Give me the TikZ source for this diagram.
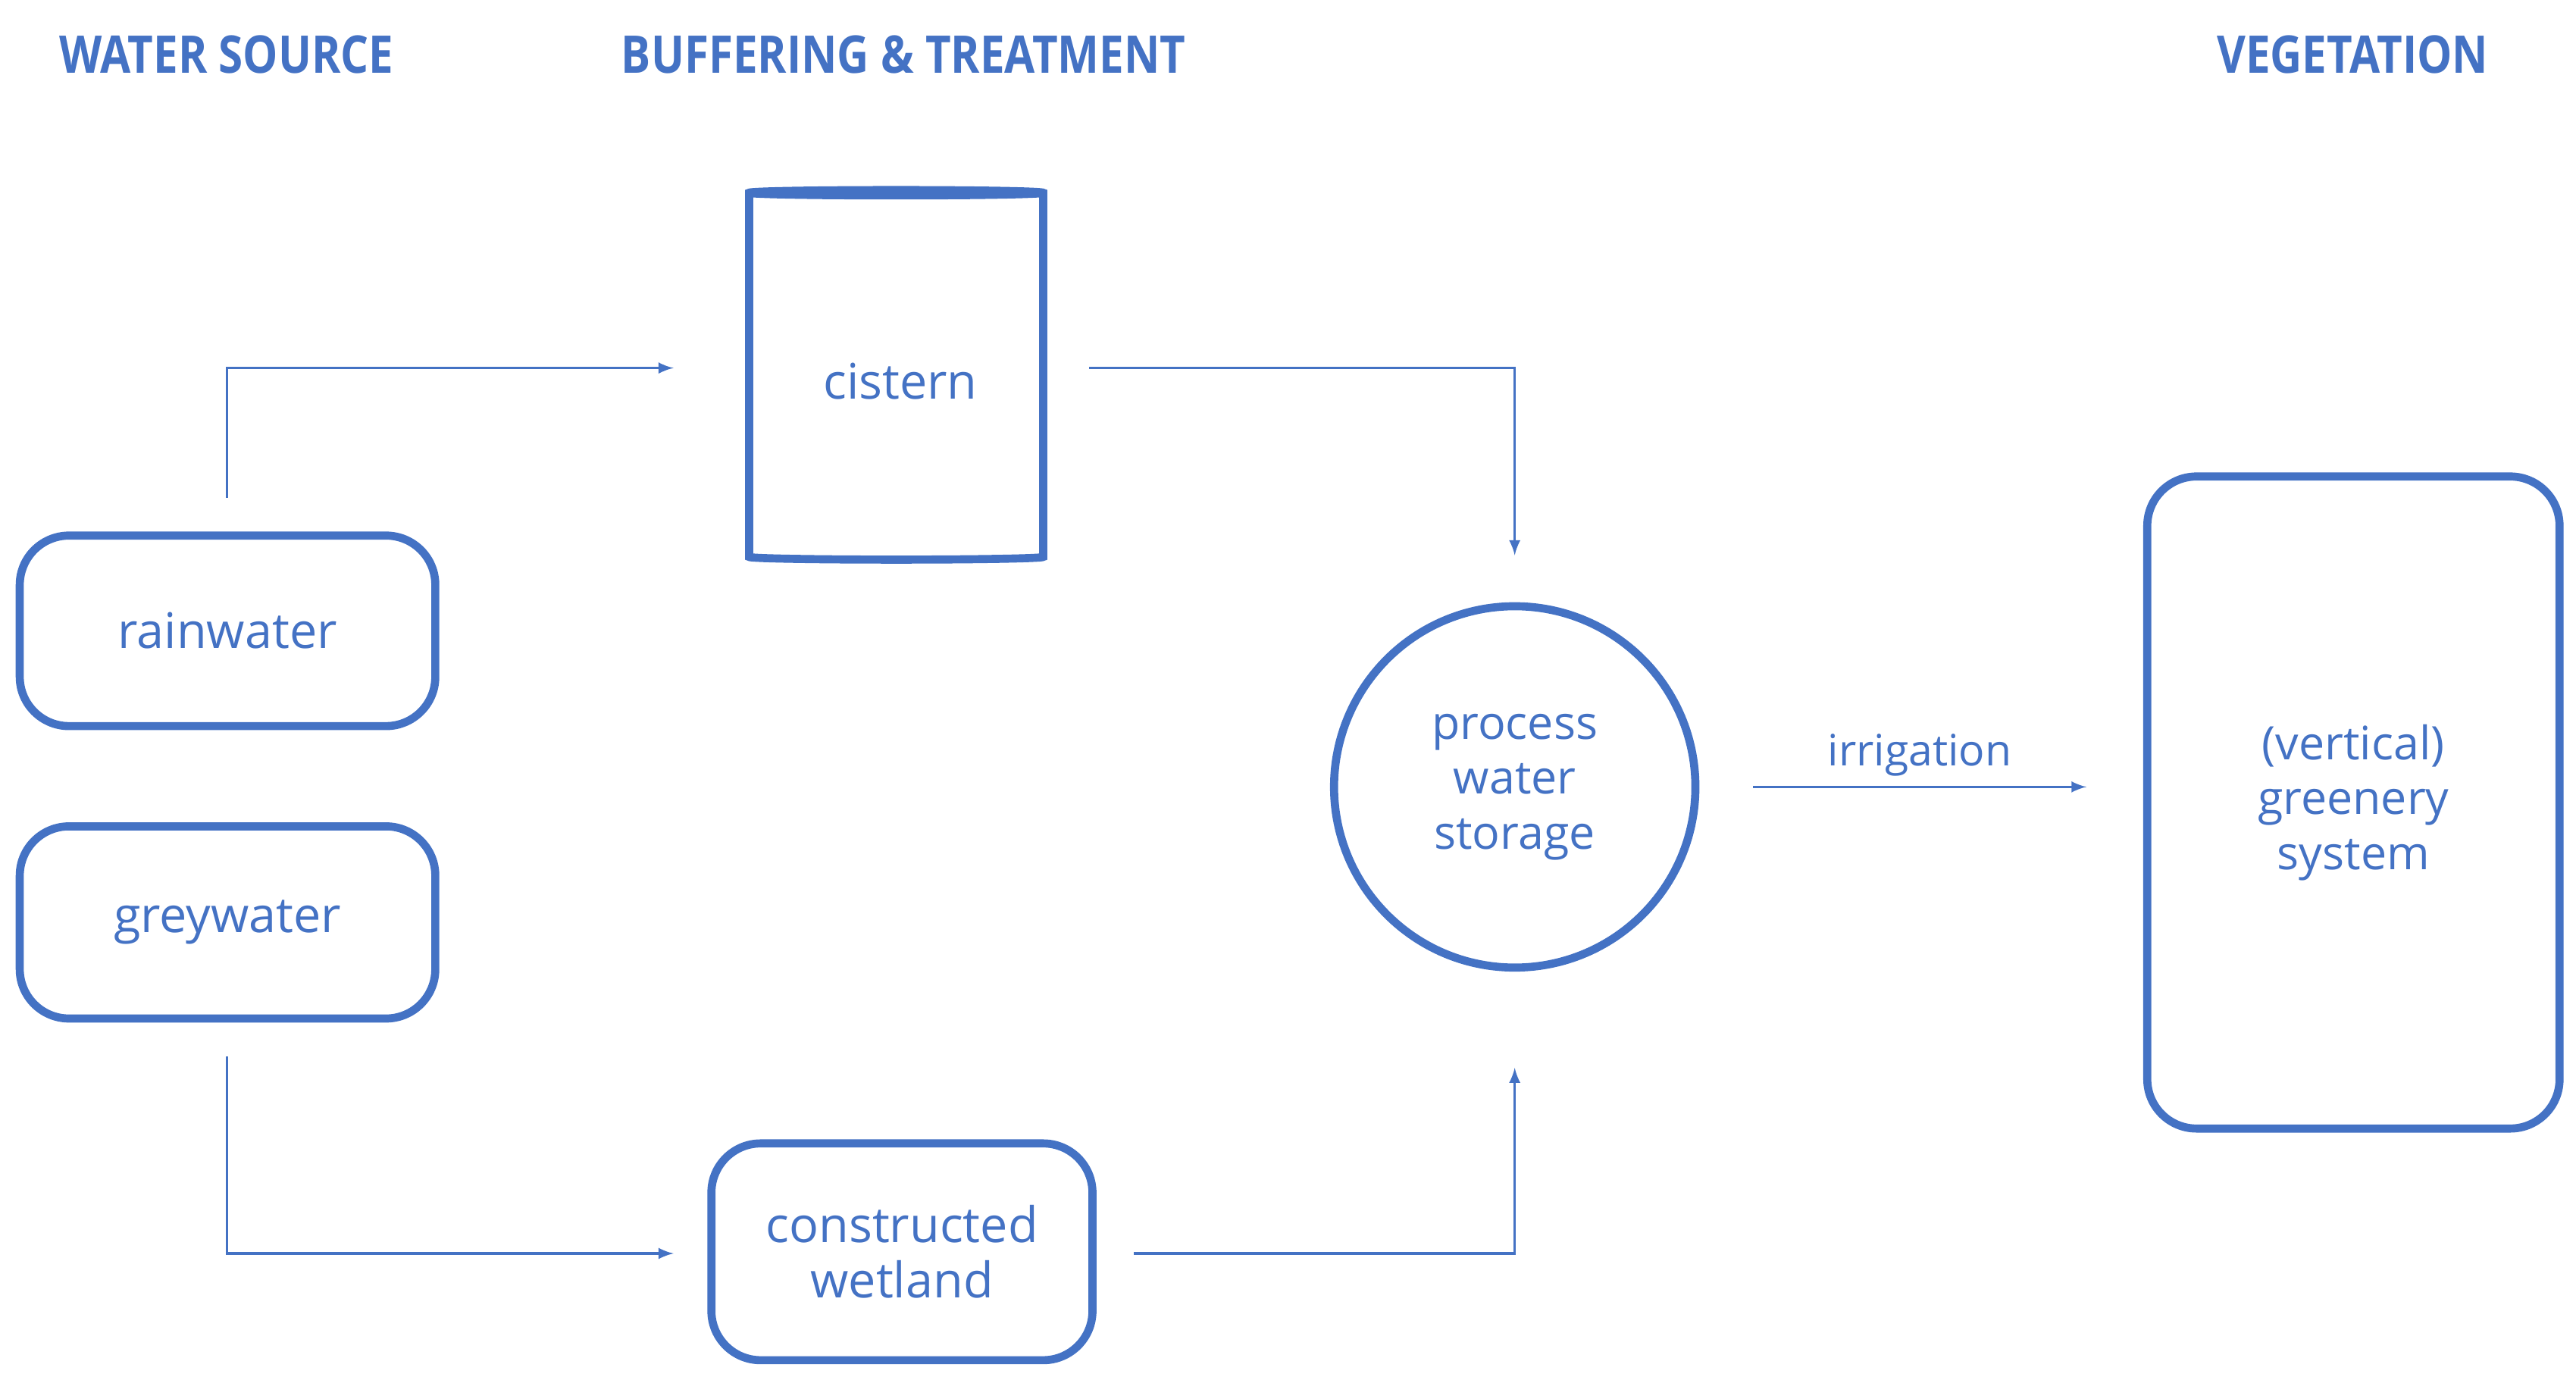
\documentclass[tikz,border=0pt]{standalone}
\usepackage{fontspec}
\setmainfont{Open Sans}
\usetikzlibrary{arrows,shapes,positioning}
\definecolor{wblue}{RGB}{68,114,196}
\begin{document}
\begin{tikzpicture}[
  x=0.02cm, y=-0.02cm,
  >=latex,
  every node/.style={text=wblue, align=center, font=\fontsize{17}{21}\selectfont},
  box/.style={draw=wblue, line width=2.8pt, rounded corners=0.6cm},
  head/.style={font=\fontsize{18}{22}\selectfont\bfseries, xscale=0.85},
  flow/.style={draw=wblue, line width=0.8pt, ->},
  ]
  \useasboundingbox (0,0) rectangle (1568,840);
  % headings
  \node[head] (hsrc) at (138,33) {WATER SOURCE};
  \node[head] (hbuf) at (550,33) {BUFFERING \& TREATMENT};
  \node[head] (hveg) at (1432,33) {VEGETATION};
  % nodes
  \node[box, minimum width=5.06cm, minimum height=2.32cm] (rain) at (138.5,384) {rainwater};
  \node[box, minimum width=5.06cm, minimum height=2.34cm] (grey) at (138.5,561.5) {greywater};
  \node[cylinder, draw=wblue, line width=2.8pt, shape border rotate=90, aspect=0.28,
        minimum width=3.58cm, minimum height=4.5cm] (cistern) at (545.5,230.5) {};
  \node (cisternlbl) at (548,232) {cistern};
  \node[box, minimum width=4.64cm, minimum height=2.64cm] (wetland) at (549,762) {constructed\\[-2pt]wetland};
  \node[circle, draw=wblue, line width=2.8pt, minimum size=4.4cm, font=\fontsize{16}{19}\selectfont] (storage) at (922,479) {process\\water\\storage};
  \node[box, minimum width=5.02cm, minimum height=7.94cm, font=\fontsize{16}{19}\selectfont] (green) at (1432.5,488.5) {(vertical)\\greenery\\system};
  % connector ends
  \coordinate (rainout) at (138,303);
  \coordinate (cisin) at (410,224);
  \coordinate (cisout) at (663,224);
  \coordinate (stotop) at (922,338);
  \coordinate (greyout) at (138,643);
  \coordinate (wetin) at (410,763);
  \coordinate (wetout) at (690,763);
  \coordinate (stobot) at (922,650);
  \coordinate (irrout) at (1067,479);
  \coordinate (irrin) at (1270,479);
  % connectors
  \draw[flow] (rainout) |- (cisin);
  \draw[flow] (cisout) -| (stotop);
  \draw[flow] (greyout) |- (wetin);
  \draw[flow] (wetout) -| (stobot);
  \draw[flow] (irrout) -- node[above, font=\fontsize{15}{18}\selectfont] (irrlbl) {irrigation} (irrin);
\end{tikzpicture}
\end{document}
